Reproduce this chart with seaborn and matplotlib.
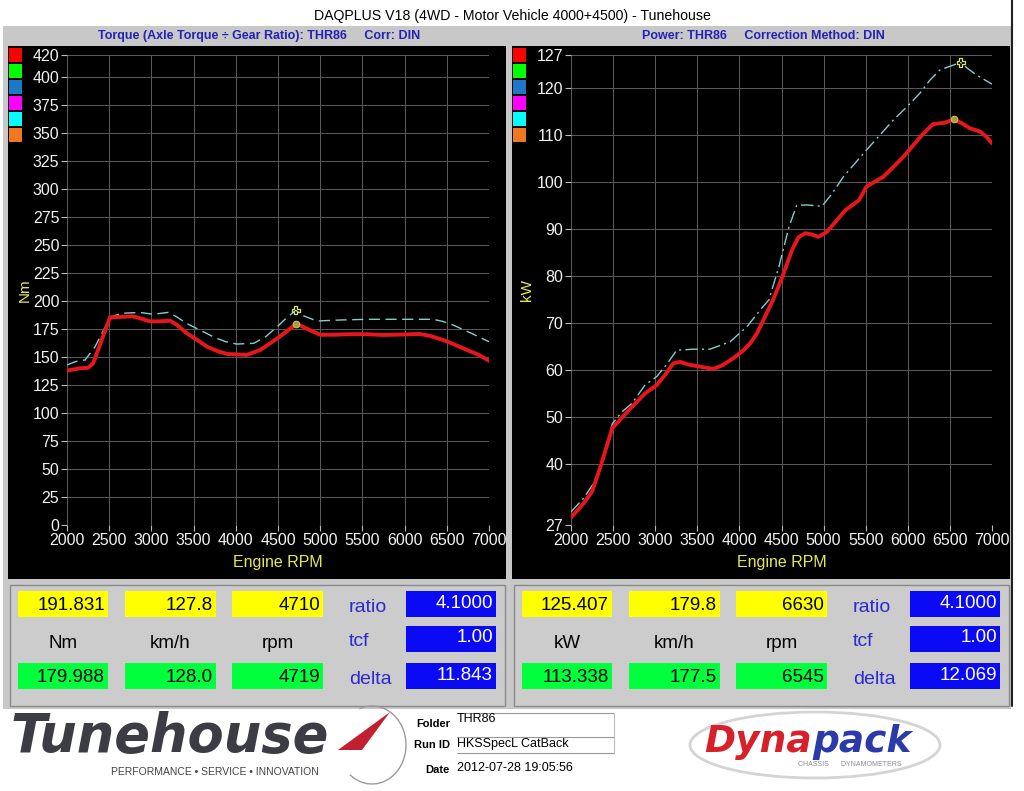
import matplotlib
matplotlib.use("Agg")
import matplotlib.pyplot as plt
from matplotlib.patches import Rectangle, Ellipse, Arc, Polygon
import seaborn as sns
import pandas as pd

# ---------------- data ----------------
torque_rpm_now = [2000, 2150, 2250, 2310, 2390, 2510, 2650, 2780, 2900, 2980, 3100, 3220, 3300, 3420,
                  3550, 3660, 3800, 3900, 4000, 4130, 4290, 4400, 4520, 4620, 4719, 4880, 5000, 5150,
                  5350, 5550, 5750, 6000, 6180, 6300, 6460, 6600, 6740, 6880, 7000]
torque_now = [138, 140, 140.5, 144.5, 161, 185.6, 186, 186.5, 184, 182, 182, 182.6, 179, 171.3,
              165, 159.3, 155, 152.8, 152.5, 152, 156.4, 162, 168.3, 174, 180, 174, 170, 170,
              170.5, 170.5, 169.8, 170.3, 170.7, 169, 165.3, 161, 156.4, 152, 146.8]
torque_rpm_ref = [2000, 2100, 2215, 2330, 2420, 2510, 2600, 2660, 2860, 3020, 3200, 3300, 3420, 3580,
                  3730, 3870, 4010, 4210, 4350, 4490, 4600, 4710, 4800, 4960, 5240, 5550, 6000, 6340,
                  6450, 6575, 6800, 7000]
torque_ref = [143, 146, 147.5, 159, 172, 185.6, 188, 189.2, 190, 188.3, 190, 186, 180, 174,
              168.3, 164, 161.7, 162.3, 168, 177.2, 185, 191.8, 187, 182.3, 183.2, 183.8, 183.8, 183.8,
              182, 178.7, 171, 163.8]

power_rpm_now = [2000, 2150, 2250, 2350, 2490, 2690, 2880, 3020, 3120, 3215, 3295, 3400, 3530, 3690,
                 3800, 3930, 4050, 4130, 4210, 4285, 4400, 4510, 4625, 4700, 4783, 4860, 4940, 5040,
                 5150, 5260, 5420, 5510, 5710, 5830, 5950, 6070, 6185, 6300, 6440, 6545, 6640, 6740,
                 6860, 6940, 7000]
power_now = [28.6, 31.6, 34.1, 39.4, 47.6, 51.5, 55, 56.8, 59, 61.4, 61.7, 61.1, 60.7, 60.2,
             61, 62.5, 64.2, 65.7, 67.8, 70.6, 74.9, 79.8, 85.5, 88.2, 89.1, 88.8, 88.3, 89.4,
             91.7, 94, 96.1, 99, 101.1, 103.2, 105.4, 107.9, 110.3, 112.3, 112.6, 113.3, 112.5, 111.4,
             110.7, 109.5, 108.2]
power_rpm_ref = [2000, 2150, 2270, 2350, 2490, 2600, 2725, 2880, 3020, 3150, 3255, 3450, 3650, 3890,
                 4090, 4245, 4350, 4470, 4590, 4680, 4800, 4980, 5100, 5235, 5370, 5510, 5670, 5830,
                 5990, 6145, 6260, 6380, 6500, 6630, 6720, 6820, 7000]
power_ref = [29.8, 32.7, 35.9, 39.6, 48.5, 51, 52.9, 56.8, 58.6, 61.5, 64.2, 64.4, 64.4, 66,
             69.2, 72.7, 74.9, 82, 90.5, 95, 95.1, 94.8, 97.5, 101.1, 103.9, 106.8, 110, 113.2,
             116, 118.9, 121.6, 123.8, 124.6, 125.4, 124, 122.7, 120.8]

torque_peak_rpm = [4710, 4719]
torque_peak_val = [191.831, 179.988]
power_peak_rpm = [6630, 6545]
power_peak_val = [125.407, 113.338]

rpm_ticks = [2000, 2500, 3000, 3500, 4000, 4500, 5000, 5500, 6000, 6500, 7000]
torque_ticks = list(range(0, 401, 25)) + [420]
power_ticks = [27, 40, 50, 60, 70, 80, 90, 100, 110, 120, 127]

left_top = ["191.831", "127.8", "4710"]
left_bottom = ["179.988", "128.0", "4719"]
left_units = ["Nm", "km/h", "rpm"]
left_side = ["4.1000", "1.00", "11.843"]
right_top = ["125.407", "179.8", "6630"]
right_bottom = ["113.338", "177.5", "6545"]
right_units = ["kW", "km/h", "rpm"]
right_side = ["4.1000", "1.00", "12.069"]
side_labels = ["ratio", "tcf", "delta"]
legend_colors = ["#ff0000", "#00ff00", "#1e78c8", "#ff00ff", "#00ffff", "#f07820"]

# ---------------- figure ----------------
sns.set_theme(style="dark")
plt.rcParams["font.family"] = ["Liberation Sans", "DejaVu Sans"]

W, H = 1024, 791
fig = plt.figure(figsize=(W / 100, H / 100), dpi=100, facecolor="white")


def P(x, py):
    return (x / W, 1 - py / H)


def rect(x0, y0, x1, y1, fc, ec="none", lw=0, z=-5):
    r = Rectangle(P(x0, y1), (x1 - x0) / W, (y1 - y0) / H, transform=fig.transFigure,
                  facecolor=fc, edgecolor=ec, linewidth=lw, zorder=z)
    fig.add_artist(r)
    return r


def txt(x, py, s, **kw):
    fig.text(*P(x, py), s, **kw)


# gray frame and black panels
rect(3, 26, 1011, 709, "#c8c8c8", z=-10)
rect(8, 46, 506, 579, "black", z=-9)
rect(512, 46, 1010, 579, "black", z=-9)
fig.add_artist(plt.Line2D([1012 / W, 1012 / W], [P(0, 0)[1], P(0, 706)[1]], transform=fig.transFigure,
                          color="#202020", lw=1.5))

txt(512, 16, "DAQPLUS V18 (4WD - Motor Vehicle 4000+4500) - Tunehouse", ha="center", va="center",
    fontsize=10.2, color="black")
hdr_font = dict(ha="center", va="center", fontsize=9.0, fontweight="bold", color="#2222b4")
txt(259, 36, "Torque (Axle Torque \u00f7 Gear Ratio): THR86     Corr: DIN", **hdr_font)
txt(763, 36, "Power: THR86     Correction Method: DIN", **hdr_font)

for x0 in (9, 513):
    for i, c in enumerate(legend_colors):
        y0 = 48 + i * 16
        rect(x0, y0, x0 + 13, y0 + 14, c, z=-4)

df_t_now = pd.DataFrame({"rpm": torque_rpm_now, "val": torque_now})
df_t_ref = pd.DataFrame({"rpm": torque_rpm_ref, "val": torque_ref})
df_p_now = pd.DataFrame({"rpm": power_rpm_now, "val": power_now})
df_p_ref = pd.DataFrame({"rpm": power_rpm_ref, "val": power_ref})


def style_axes(ax, yticks, ylim):
    ax.set_facecolor("none")
    ax.set_xlim(2000, 7000)
    ax.set_ylim(*ylim)
    ax.set_xticks(rpm_ticks)
    ax.set_yticks(yticks)
    ax.set_xticklabels([str(t) for t in rpm_ticks])
    ax.set_yticklabels([str(t) for t in yticks])
    for s in ax.spines.values():
        s.set_visible(False)
    ax.grid(True, color="#5c5c5c", lw=0.7)
    ax.tick_params(axis="both", which="both", direction="out", length=4, width=0.8,
                   color="#bbbbbb", labelcolor="#f2f2f2", labelsize=11.5, pad=1.5,
                   left=True, bottom=True)
    ax.set_xlabel("")
    ax.set_ylabel("")


ax1 = fig.add_axes([67 / W, 1 - 525 / H, 422 / W, 470 / H])
sns.lineplot(data=df_t_ref, x="rpm", y="val", ax=ax1, color="#7fd0d0", lw=1.0, sort=False,
             linestyle=(0, (8, 4)))
sns.lineplot(data=df_t_now, x="rpm", y="val", ax=ax1, color="#e8161c", lw=2.8, sort=False)
sns.scatterplot(x=torque_peak_rpm[:1], y=torque_peak_val[:1], ax=ax1, marker="P", s=35,
                color="none", edgecolor="#e0e070", linewidth=0.9, zorder=5)
sns.scatterplot(x=torque_peak_rpm[1:], y=torque_peak_val[1:], ax=ax1, marker="o", s=22,
                color="#a0a040", edgecolor="#d0c040", linewidth=0.8, zorder=5)
style_axes(ax1, torque_ticks, (0, 420))

ax2 = fig.add_axes([571 / W, 1 - 525 / H, 421 / W, 470 / H])
sns.lineplot(data=df_p_ref, x="rpm", y="val", ax=ax2, color="#7fd0d0", lw=1.0, sort=False,
             linestyle=(0, (9, 3, 1.5, 3)))
sns.lineplot(data=df_p_now, x="rpm", y="val", ax=ax2, color="#e8161c", lw=2.8, sort=False)
sns.scatterplot(x=power_peak_rpm[:1], y=power_peak_val[:1], ax=ax2, marker="P", s=35,
                color="none", edgecolor="#e0e070", linewidth=0.9, zorder=5)
sns.scatterplot(x=power_peak_rpm[1:], y=power_peak_val[1:], ax=ax2, marker="o", s=22,
                color="#a0a040", edgecolor="#d0c040", linewidth=0.8, zorder=5)
style_axes(ax2, power_ticks, (27, 127))

yellow_lab = "#e6e65a"
for cx in (278, 782):
    txt(cx, 563, "Engine RPM", ha="center", va="center", fontsize=11.5, color=yellow_lab)
txt(25, 290, "Nm", ha="center", va="center", rotation=90, fontsize=11, color=yellow_lab)
txt(527, 290, "kW", ha="center", va="center", rotation=90, fontsize=11, color=yellow_lab)

# ---------------- readout panels ----------------
def readout(off, top, bottom, units, side):
    rect(10 + off, 585, 505 + off, 706, "#cccccc", ec="#8a8a8a", lw=1.0, z=-8)
    xs = [(18, 108), (125, 216), (232, 323)]
    for (a, b), t, bt, u in zip(xs, top, bottom, units):
        rect(a + off, 591, b + off, 617, "#ffff00", z=-3)
        rect(a + off, 663, b + off, 689, "#00ff3c", z=-3)
        txt(b + off - 3, 605, t, ha="right", va="center", fontsize=13.5, color="black")
        txt(b + off - 3, 677, bt, ha="right", va="center", fontsize=13.5, color="black")
        txt((a + b) / 2 + off, 643, u, ha="center", va="center", fontsize=13.5, color="black")
    for i, (lab, v) in enumerate(zip(side_labels, side)):
        ys = [(591, 617), (626, 652), (663, 689)][i]
        rect(406 + off, ys[0], 496 + off, ys[1], "#0a0af5", z=-3)
        txt(493 + off, (ys[0] + ys[1]) / 2 - 1, v, ha="right", va="center", fontsize=13.5, color="white")
        txt(349 + off, (ys[0] + ys[1]) / 2 + 3, lab, ha="left", va="center", fontsize=14, color="#2a2ad0")


readout(0, left_top, left_bottom, left_units, left_side)
readout(504, right_top, right_bottom, right_units, right_side)

# ---------------- footer logos ----------------
fig.add_artist(Arc(P(372, 745), 68 / W, 78 / H, theta1=-120, theta2=105, transform=fig.transFigure,
                   color="#9a9a9a", lw=1.0))
txt(10, 752, "Tunehouse", ha="left", va="baseline", fontsize=38, fontweight="heavy", style="italic",
    color="#3c3c44", family=["DejaVu Sans"])
fig.add_artist(Polygon([P(338, 750), P(390, 712), P(362, 750)], closed=True, transform=fig.transFigure,
                       facecolor="#c02030", edgecolor="none"))
txt(215, 772, "PERFORMANCE \u2022 SERVICE \u2022 INNOVATION", ha="center", va="center", fontsize=7.5,
    color="#444444")

lab_font = dict(ha="right", va="center", fontsize=8, fontweight="bold", color="black")
val_font = dict(ha="left", va="center", fontsize=9, color="black")
txt(450, 724, "Folder", **lab_font)
txt(457, 719, "THR86", **val_font)
txt(450, 745, "Run ID", **lab_font)
txt(457, 744, "HKSSpecL CatBack", **val_font)
txt(450, 770, "Date", **lab_font)
txt(457, 768, "2012-07-28 19:05:56", **val_font)
for py in (713, 737, 753):
    fig.add_artist(plt.Line2D([457 / W, 614 / W], [P(0, py)[1]] * 2, transform=fig.transFigure,
                              color="#999999", lw=0.8))
fig.add_artist(plt.Line2D([614 / W, 614 / W], [P(0, 713)[1], P(0, 753)[1]], transform=fig.transFigure,
                          color="#bbbbbb", lw=0.8))

fig.add_artist(Ellipse(P(815, 745), 250 / W, 66 / H, transform=fig.transFigure, facecolor="none",
                       edgecolor="#d4d4d4", lw=2.0))
txt(812, 742, "Dyna", ha="right", va="center", fontsize=27, fontweight="heavy", style="italic",
    color="#d8202a", family=["DejaVu Sans"])
txt(812, 742, "pack", ha="left", va="center", fontsize=27, fontweight="heavy", style="italic",
    color="#2a3aa8", family=["DejaVu Sans"])
txt(850, 764, "CHASSIS      DYNAMOMETERS", ha="center", va="center", fontsize=5, color="#8a8a9a")

fig.savefig("out.png", dpi=100, facecolor="white")
